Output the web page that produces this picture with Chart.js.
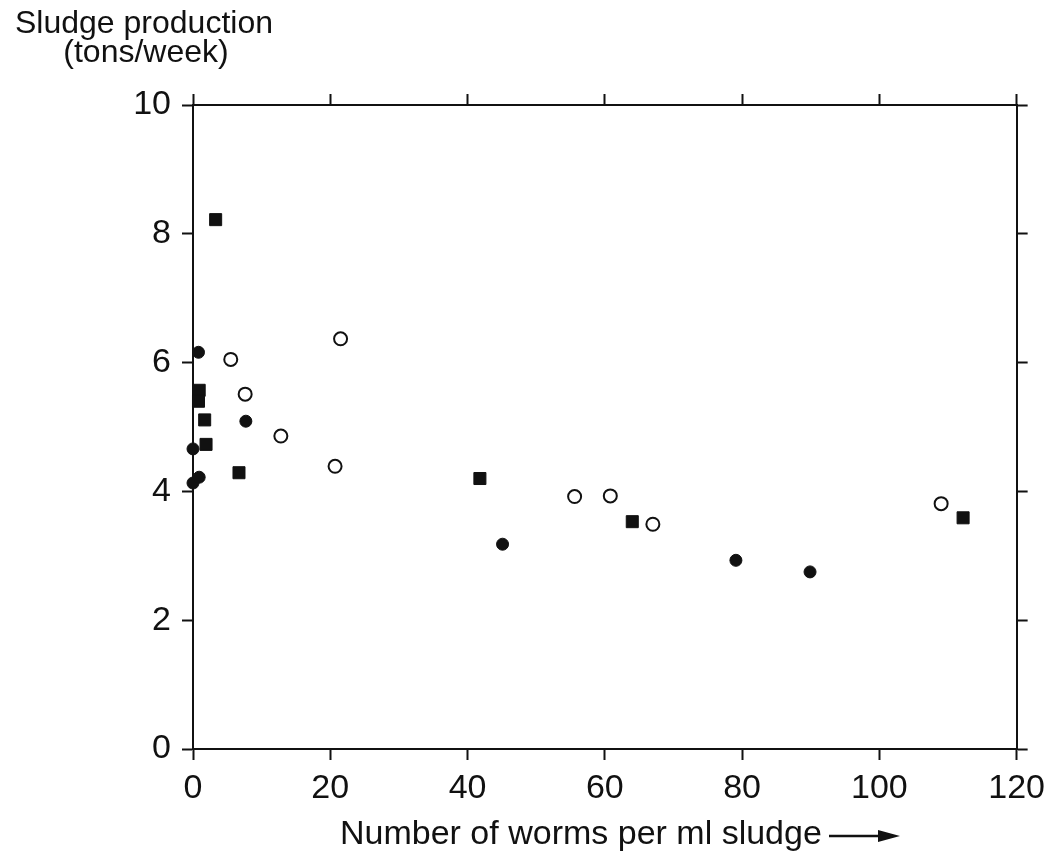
<!DOCTYPE html>
<html>
<head>
<meta charset="utf-8">
<script src="https://cdn.jsdelivr.net/npm/chart.js@4.4.1/dist/chart.umd.min.js"></script>
<style>
  body { margin: 0; background: #fff; }
  #wrap { width: 1053px; height: 852px; }
</style>
</head>
<body>
<div id="wrap"><canvas id="sludgeChart" width="1053" height="852"></canvas></div>
<script>
// values
const dotX = [0.8, 7.7, 0, 0, 0.9, 45.1, 79.1, 89.9];
const dotY = [6.16, 5.09, 4.66, 4.13, 4.22, 3.18, 2.93, 2.75];
const ringX = [5.5, 21.5, 7.6, 12.8, 20.7, 55.6, 60.8, 67.0, 109.0];
const ringY = [6.05, 6.37, 5.51, 4.86, 4.39, 3.92, 3.93, 3.49, 3.81];
const squareX = [3.3, 0.9, 0.8, 1.7, 1.9, 6.7, 41.8, 64.0, 112.2];
const squareY = [8.22, 5.57, 5.40, 5.11, 4.73, 4.29, 4.20, 3.53, 3.59];
const xTicks = [0, 20, 40, 60, 80, 100, 120];
const yTicks = [0, 2, 4, 6, 8, 10];
const yTitle = ['Sludge production', '(tons/week)'];
const xTitle = 'Number of worms per ml sludge';

const pts = (xs, ys) => xs.map((x, i) => ({ x: x, y: ys[i] }));

const ink = '#111';

function axis(pos, ticks, showLabels, font, pad, size) {
    const horiz = pos === 'top' || pos === 'bottom';
    return {
        type: 'linear',
        position: pos,
        min: ticks[0],
        max: ticks[ticks.length - 1],
        afterBuildTicks: s => { s.ticks = ticks.map(v => ({ value: v })); },
        afterFit: s => { if (horiz) s.height = size; else s.width = size; },
        ticks: { display: showLabels, color: ink, font: font, padding: pad, autoSkip: false, maxRotation: 0 },
        grid: { drawOnChartArea: false, drawTicks: true, tickLength: 11, tickWidth: 2, tickColor: ink },
        border: { display: true, color: ink, width: 2 }
    };
}

const titles = {
    id: 'titles',
    afterDraw(chart) {
        const ctx = chart.ctx;
        ctx.save();
        ctx.fillStyle = ink;
        ctx.textAlign = 'center';
        ctx.textBaseline = 'alphabetic';
        ctx.font = '32px "Liberation Sans", Arial, sans-serif';
        ctx.fillText(yTitle[0], 144, 33);
        ctx.fillText(yTitle[1], 146, 62);

        ctx.textAlign = 'left';
        ctx.font = '34px "Liberation Sans", sans-serif';
        ctx.fillText(xTitle, 340, 844);
        // arrow after the axis title
        ctx.strokeStyle = ink;
        ctx.lineWidth = 2.5;
        ctx.beginPath();
        ctx.moveTo(829, 836);
        ctx.lineTo(884, 836);
        ctx.stroke();
        ctx.beginPath();
        ctx.moveTo(900, 836);
        ctx.lineTo(878, 830);
        ctx.lineTo(878, 842);
        ctx.closePath();
        ctx.fill();
        ctx.restore();
    }
};

const yFont = { family: '"Liberation Sans", Arial, sans-serif', size: 34 };
const xFont = { family: '"Liberation Sans", sans-serif', size: 34 };

new Chart(document.getElementById('sludgeChart'), {
    type: 'scatter',
    data: {
        datasets: [
            { label: 'filled circles', data: pts(dotX, dotY), pointStyle: 'circle', pointRadius: 6,
              backgroundColor: ink, borderColor: ink, borderWidth: 1, clip: false },
            { label: 'open circles', data: pts(ringX, ringY), pointStyle: 'circle', pointRadius: 6.5,
              backgroundColor: '#fff', borderColor: ink, borderWidth: 2, clip: false },
            { label: 'squares', data: pts(squareX, squareY), pointStyle: 'rect', pointRadius: 8.5,
              backgroundColor: ink, borderColor: ink, borderWidth: 1, clip: false }
        ]
    },
    options: {
        responsive: false,
        animation: false,
        layout: { padding: 0, autoPadding: false },
        plugins: { legend: { display: false }, tooltip: { enabled: false } },
        scales: {
            x: axis('bottom', xTicks, true, xFont, 8, 103),
            xTop: axis('top', xTicks, false, xFont, 0, 105),
            y: axis('left', yTicks, true, yFont, 11, 193),
            yRight: axis('right', yTicks, false, yFont, 0, 31)
        }
    },
    plugins: [titles]
});
</script>
</body>
</html>
